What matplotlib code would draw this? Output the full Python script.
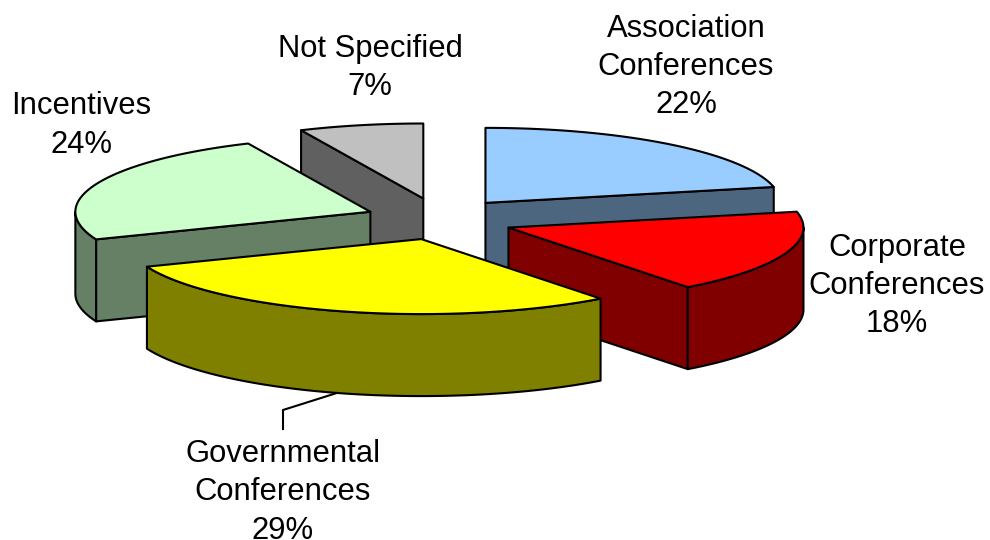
import numpy as np
import matplotlib
matplotlib.use("Agg")
import matplotlib.pyplot as plt
from matplotlib.patches import Polygon

names = ["Association\nConferences", "Corporate\nConferences", "Governmental\nConferences", "Incentives", "Not Specified"]
values = [21.6, 18.0, 29.4, 24.2, 6.8]
explode = [1, 1, 0.9, 1, 1]
top_colors = ["#99CCFF", "#FF0000", "#FFFF00", "#CCFFCC", "#C0C0C0"]
side_colors = ["#4D6680", "#800000", "#808000", "#668066", "#606060"]
label_pos = [(686, 67), (897, 286), (283, 492.5), (81, 125.5), (370, 68)]
draw_order = [4, 0, 3, 1, 2]

CX, CY = 439, 220
RX, RY = 295, 75
EX, EY = 74, 22
DEPTH = 82
LW = 1.5

fig = plt.figure(figsize=(9.9, 5.4), dpi=100)
ax = fig.add_axes([0, 0, 1, 1])
ax.set_xlim(0, 990)
ax.set_ylim(540, 0)
ax.axis("off")


def rim(a, b, n=80):
    t = np.radians(np.linspace(a, b, n))
    return RX * np.sin(t), -RY * np.cos(t)


def poly(xy, color, z):
    ax.add_patch(Polygon(xy, closed=True, fc=color, ec="black", lw=LW, joinstyle="round", zorder=z))


bounds = np.concatenate([[0], np.cumsum(values)]) / sum(values) * 360
for z, i in enumerate(draw_order):
    a, b = bounds[i], bounds[i + 1]
    mid = np.radians((a + b) / 2)
    ox = CX + EX * explode[i] * np.sin(mid)
    oy = CY - EY * explode[i] * np.cos(mid)
    zz = z * 3 + 1
    # radial walls that face the viewer
    for edge, visible in ((a, 180 < a < 360), (b, 0 < b < 180)):
        if visible:
            ex, ey = rim(edge, edge, 1)
            px, py = ox + ex[0], oy + ey[0]
            poly([(ox, oy), (px, py), (px, py + DEPTH), (ox, oy + DEPTH)], side_colors[i], zz)
    # outer wall on the front half of the rim
    lo, hi = max(a, 90), min(b, 270)
    if lo < hi:
        rx, ry = rim(lo, hi)
        upper = np.column_stack([ox + rx, oy + ry])
        lower = np.column_stack([ox + rx, oy + ry + DEPTH])[::-1]
        poly(np.vstack([upper, lower]), side_colors[i], zz + 1)
    # top face
    rx, ry = rim(a, b)
    poly(np.vstack([[(ox, oy)], np.column_stack([ox + rx, oy + ry])]), top_colors[i], zz + 2)

ax.plot([283, 283, 340], [429, 410, 392], color="black", lw=LW, zorder=0, solid_joinstyle="miter")

for name, v, (x, y) in zip(names, values, label_pos):
    ax.text(x, y, f"{name}\n{round(v)}%", ha="center", va="center", fontsize=22.3,
            family="Liberation Sans", color="black", linespacing=1.35, zorder=30)

fig.savefig("out.png", dpi=100, facecolor="white")
